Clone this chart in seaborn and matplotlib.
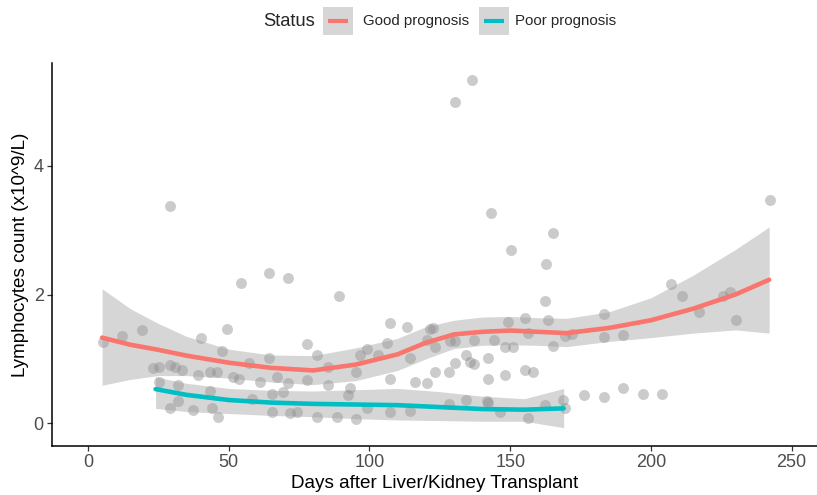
import numpy as np
import pandas as pd
import matplotlib
matplotlib.use("Agg")
import matplotlib.pyplot as plt
from matplotlib.patches import Rectangle
from matplotlib.lines import Line2D
import seaborn as sns

# Individual lymphocyte measurements (days after transplant, count x10^9/L)
days = [
    29.1, 54.2, 64.2, 71.2, 19.3, 12.2, 5.2, 49.3, 40.3, 77.7, 47.7, 64.2, 57.3,
    23.2, 25.1, 29.1, 30.9, 33.3, 39.2, 43.3, 45.7, 51.4, 53.5, 61.1, 67.0, 71.2,
    77.7, 25.1, 32.1, 43.3, 65.3, 69.2, 58.1, 32.1, 29.1, 37.2, 44.2, 46.3, 65.3,
    71.8, 74.1,
    136.3, 130.3, 143.2, 89.2, 107.3, 113.2, 121.5, 122.4, 81.2, 96.6, 99.2, 103.1,
    106.1, 114.4, 123.3, 128.6, 130.4, 137.1, 144.2, 134.3, 135.7, 137.1, 130.4,
    142.2, 123.3, 128.2, 85.4, 95.2, 107.3, 116.2, 120.3, 142.2, 85.4, 93.1, 92.5,
    99.2, 107.3, 114.4, 134.3, 141.6, 142.2, 128.4, 81.2, 88.3, 95.2, 120.3,
    242.3, 165.3, 150.2, 162.8, 207.1, 211.1, 225.7, 228.1, 217.2, 230.2, 162.3,
    155.2, 149.3, 163.3, 156.4, 148.1, 151.1, 165.3, 169.4, 171.8, 183.3, 183.3,
    190.2, 148.1, 155.2, 158.2, 146.4, 156.4, 162.3, 168.8, 169.4, 176.2, 183.3,
    190.2, 197.3, 204.1,
]
counts = [
    3.37, 2.18, 2.34, 2.25, 1.45, 1.35, 1.26, 1.47, 1.33, 1.23, 1.12, 1.02, 0.94,
    0.85, 0.88, 0.90, 0.87, 0.82, 0.75, 0.80, 0.80, 0.72, 0.68, 0.64, 0.72, 0.63,
    0.67, 0.64, 0.59, 0.50, 0.46, 0.49, 0.38, 0.35, 0.23, 0.21, 0.23, 0.10, 0.18,
    0.16, 0.18,
    5.33, 4.99, 3.27, 1.98, 1.56, 1.50, 1.46, 1.48, 1.06, 1.06, 1.16, 1.06,
    1.24, 1.02, 1.19, 1.28, 1.28, 1.30, 1.30, 1.06, 0.95, 0.92, 0.93,
    1.02, 0.79, 0.79, 0.88, 0.79, 0.68, 0.64, 0.62, 0.68, 0.59, 0.54, 0.44,
    0.23, 0.18, 0.19, 0.36, 0.35, 0.32, 0.30, 0.10, 0.10, 0.07, 1.30,
    3.47, 2.96, 2.70, 2.47, 2.16, 1.97, 1.97, 2.04, 1.73, 1.61, 1.90,
    1.64, 1.58, 1.61, 1.40, 1.19, 1.18, 1.20, 1.35, 1.38, 1.70, 1.34,
    1.37, 0.75, 0.82, 0.79, 0.18, 0.08, 0.28, 0.36, 0.23, 0.44, 0.41,
    0.55, 0.45, 0.46,
]

# Smoothed trend with 95% confidence band, good prognosis group
good_x = [5, 15, 25, 35, 50, 65, 80, 95, 110, 120, 130, 140, 150, 160, 170, 185, 200, 215, 230, 242]
good_fit = [1.33, 1.22, 1.14, 1.05, 0.94, 0.86, 0.82, 0.91, 1.07, 1.25, 1.38, 1.42, 1.44, 1.42, 1.40, 1.48, 1.60, 1.78, 2.00, 2.23]
good_hi = [2.09, 1.78, 1.55, 1.35, 1.15, 1.06, 1.05, 1.17, 1.32, 1.50, 1.60, 1.65, 1.66, 1.64, 1.63, 1.73, 1.95, 2.30, 2.70, 3.05]
good_lo = [0.59, 0.68, 0.74, 0.74, 0.70, 0.64, 0.60, 0.66, 0.82, 1.00, 1.16, 1.21, 1.22, 1.21, 1.19, 1.27, 1.33, 1.40, 1.45, 1.40]

# Smoothed trend with 95% confidence band, poor prognosis group
poor_x = [24, 35, 50, 65, 80, 95, 110, 125, 140, 155, 169]
poor_fit = [0.53, 0.44, 0.36, 0.32, 0.30, 0.29, 0.28, 0.25, 0.22, 0.21, 0.23]
poor_hi = [0.72, 0.62, 0.54, 0.51, 0.50, 0.52, 0.54, 0.49, 0.42, 0.38, 0.54]
poor_lo = [0.23, 0.18, 0.15, 0.12, 0.10, 0.07, 0.05, 0.04, 0.03, 0.03, -0.07]

status_labels = ["Good prognosis", "Poor prognosis"]
status_colors = ["#F8766D", "#00BFC4"]
x_ticks = [0, 50, 100, 150, 200, 250]
y_ticks = [0, 2, 4]

sns.set_theme(style="ticks")
plt.rcParams["font.family"] = ["Liberation Sans", "DejaVu Sans"]

points = pd.DataFrame({"days": days, "count": counts})
fits = pd.concat([
    pd.DataFrame({"days": good_x, "fit": good_fit, "lo": good_lo, "hi": good_hi,
                  "Status": status_labels[0]}),
    pd.DataFrame({"days": poor_x, "fit": poor_fit, "lo": poor_lo, "hi": poor_hi,
                  "Status": status_labels[1]}),
])

W, H = 817, 495
fig = plt.figure(figsize=(W / 100, H / 100), dpi=100)
ax = fig.add_axes([52 / W, (H - 446) / H, (W - 52) / W, (446 - 63) / H])

sns.scatterplot(data=points, x="days", y="count", color="#7F7F7F", alpha=0.4,
                s=62, linewidth=0, ax=ax, zorder=1)

for label in status_labels:
    sub = fits[fits["Status"] == label]
    ax.fill_between(sub["days"], sub["lo"], sub["hi"], color="#999999",
                    alpha=0.4, linewidth=0, zorder=2)

sns.lineplot(data=fits, x="days", y="fit", hue="Status", hue_order=status_labels,
             palette=status_colors, linewidth=3.3, legend=False, ax=ax, zorder=3)

ax.set_xlim(-12.8, 259)
ax.set_ylim(-0.355, 5.6)
ax.set_xticks(x_ticks)
ax.set_yticks(y_ticks)
ax.set_xlabel("Days after Liver/Kidney Transplant", fontsize=13.6, color="black", labelpad=3)
ax.set_ylabel("Lymphocytes count (x10^9/L)", fontsize=13.6, color="black", labelpad=3)
ax.tick_params(axis="both", labelsize=13, labelcolor="#4D4D4D", length=3.5,
               width=0.9, color="#333333", pad=2.5)
for side in ["top", "right"]:
    ax.spines[side].set_visible(False)
for side in ["left", "bottom"]:
    ax.spines[side].set_linewidth(1.1)
    ax.spines[side].set_color("black")

# Legend across the top: title on the left, keys with grey band background
def px(x, y):
    return x / W, (H - y) / H

fig.text(*px(263, 21), "Status", fontsize=13.2, ha="left", va="center")
key_left = [323, 479]
text_left = [363, 515]
for kx, tx, lab, col in zip(key_left, text_left, status_labels, status_colors):
    x0, y0 = px(kx, 35)
    fig.patches.append(Rectangle((x0, y0), 30 / W, 28 / H, transform=fig.transFigure,
                                 facecolor="#D6D6D6", edgecolor="none"))
    lx0, ly = px(kx + 5, 21)
    lx1, _ = px(kx + 25, 21)
    fig.lines.append(Line2D([lx0, lx1], [ly, ly], transform=fig.transFigure,
                            color=col, linewidth=3.0, solid_capstyle="butt"))
    fig.text(*px(tx, 21), lab, fontsize=10.8, ha="left", va="center")

fig.savefig("out.png", dpi=100)
